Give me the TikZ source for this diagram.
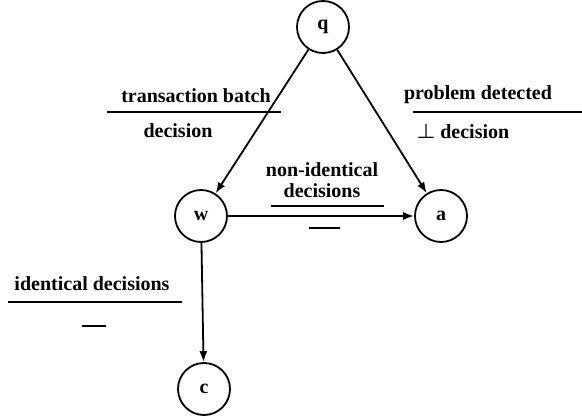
\documentclass[tikz,border=0pt]{standalone}
\usepackage{fontspec}
\setmainfont{Liberation Serif}
\usepackage{amsmath}
\usetikzlibrary{arrows.meta}
\begin{document}
\begin{tikzpicture}[x=1pt,y=-1pt,
  state/.style={draw,circle,line width=1.8pt,minimum size=52pt,inner sep=0pt,font=\fontsize{20}{22}\selectfont\bfseries},
  lbl/.style={inner sep=0pt,font=\fontsize{20}{21}\selectfont\bfseries},
  edge/.style={line width=1.8pt,-{Latex[length=11pt,width=8pt]}},
  rule/.style={line width=1.8pt}]
\useasboundingbox (0,0) rectangle (582,417);
\node[state] (q) at (323,27) {q};
\node[state] (w) at (201,216) {w};
\node[state] (a) at (441,216) {a};
\node[state] (c) at (204,389) {c};
\draw[edge] (q) -- (w);
\draw[edge] (q) -- (a);
\draw[edge] (w) -- (a);
\draw[edge] (w) -- (c);
% transaction batch / decision
\node[lbl] (tb) at (196,96) {transaction batch};
\coordinate (tbl) at (107,112);
\coordinate (tbr) at (281,112);
\draw[rule] (tbl) -- (tbr);
\node[lbl] (tbd) at (178,131) {decision};
% problem detected / bot decision
\node[lbl] (pd) at (478,95) {problem detected};
\coordinate (pdl) at (413,112);
\coordinate (pdr) at (582,112);
\draw[rule] (pdl) -- (pdr);
\node[lbl] (pdd) at (463,131) {$\boldsymbol{\bot}$ decision};
% non-identical decisions
\node[lbl,align=center] (nid) at (322,180) {non-identical\\decisions};
\coordinate (nidl) at (271,206);
\coordinate (nidr) at (384,206);
\draw[rule] (nidl) -- (nidr);
\coordinate (nidbl) at (309,228);
\coordinate (nidbr) at (340,228);
\draw[rule] (nidbl) -- (nidbr);
% identical decisions
\node[lbl] (id) at (92,284) {identical decisions};
\coordinate (idl) at (8,302);
\coordinate (idr) at (182,302);
\draw[rule] (idl) -- (idr);
\coordinate (idbl) at (82,326);
\coordinate (idbr) at (106,326);
\draw[rule] (idbl) -- (idbr);
\end{tikzpicture}
\end{document}
